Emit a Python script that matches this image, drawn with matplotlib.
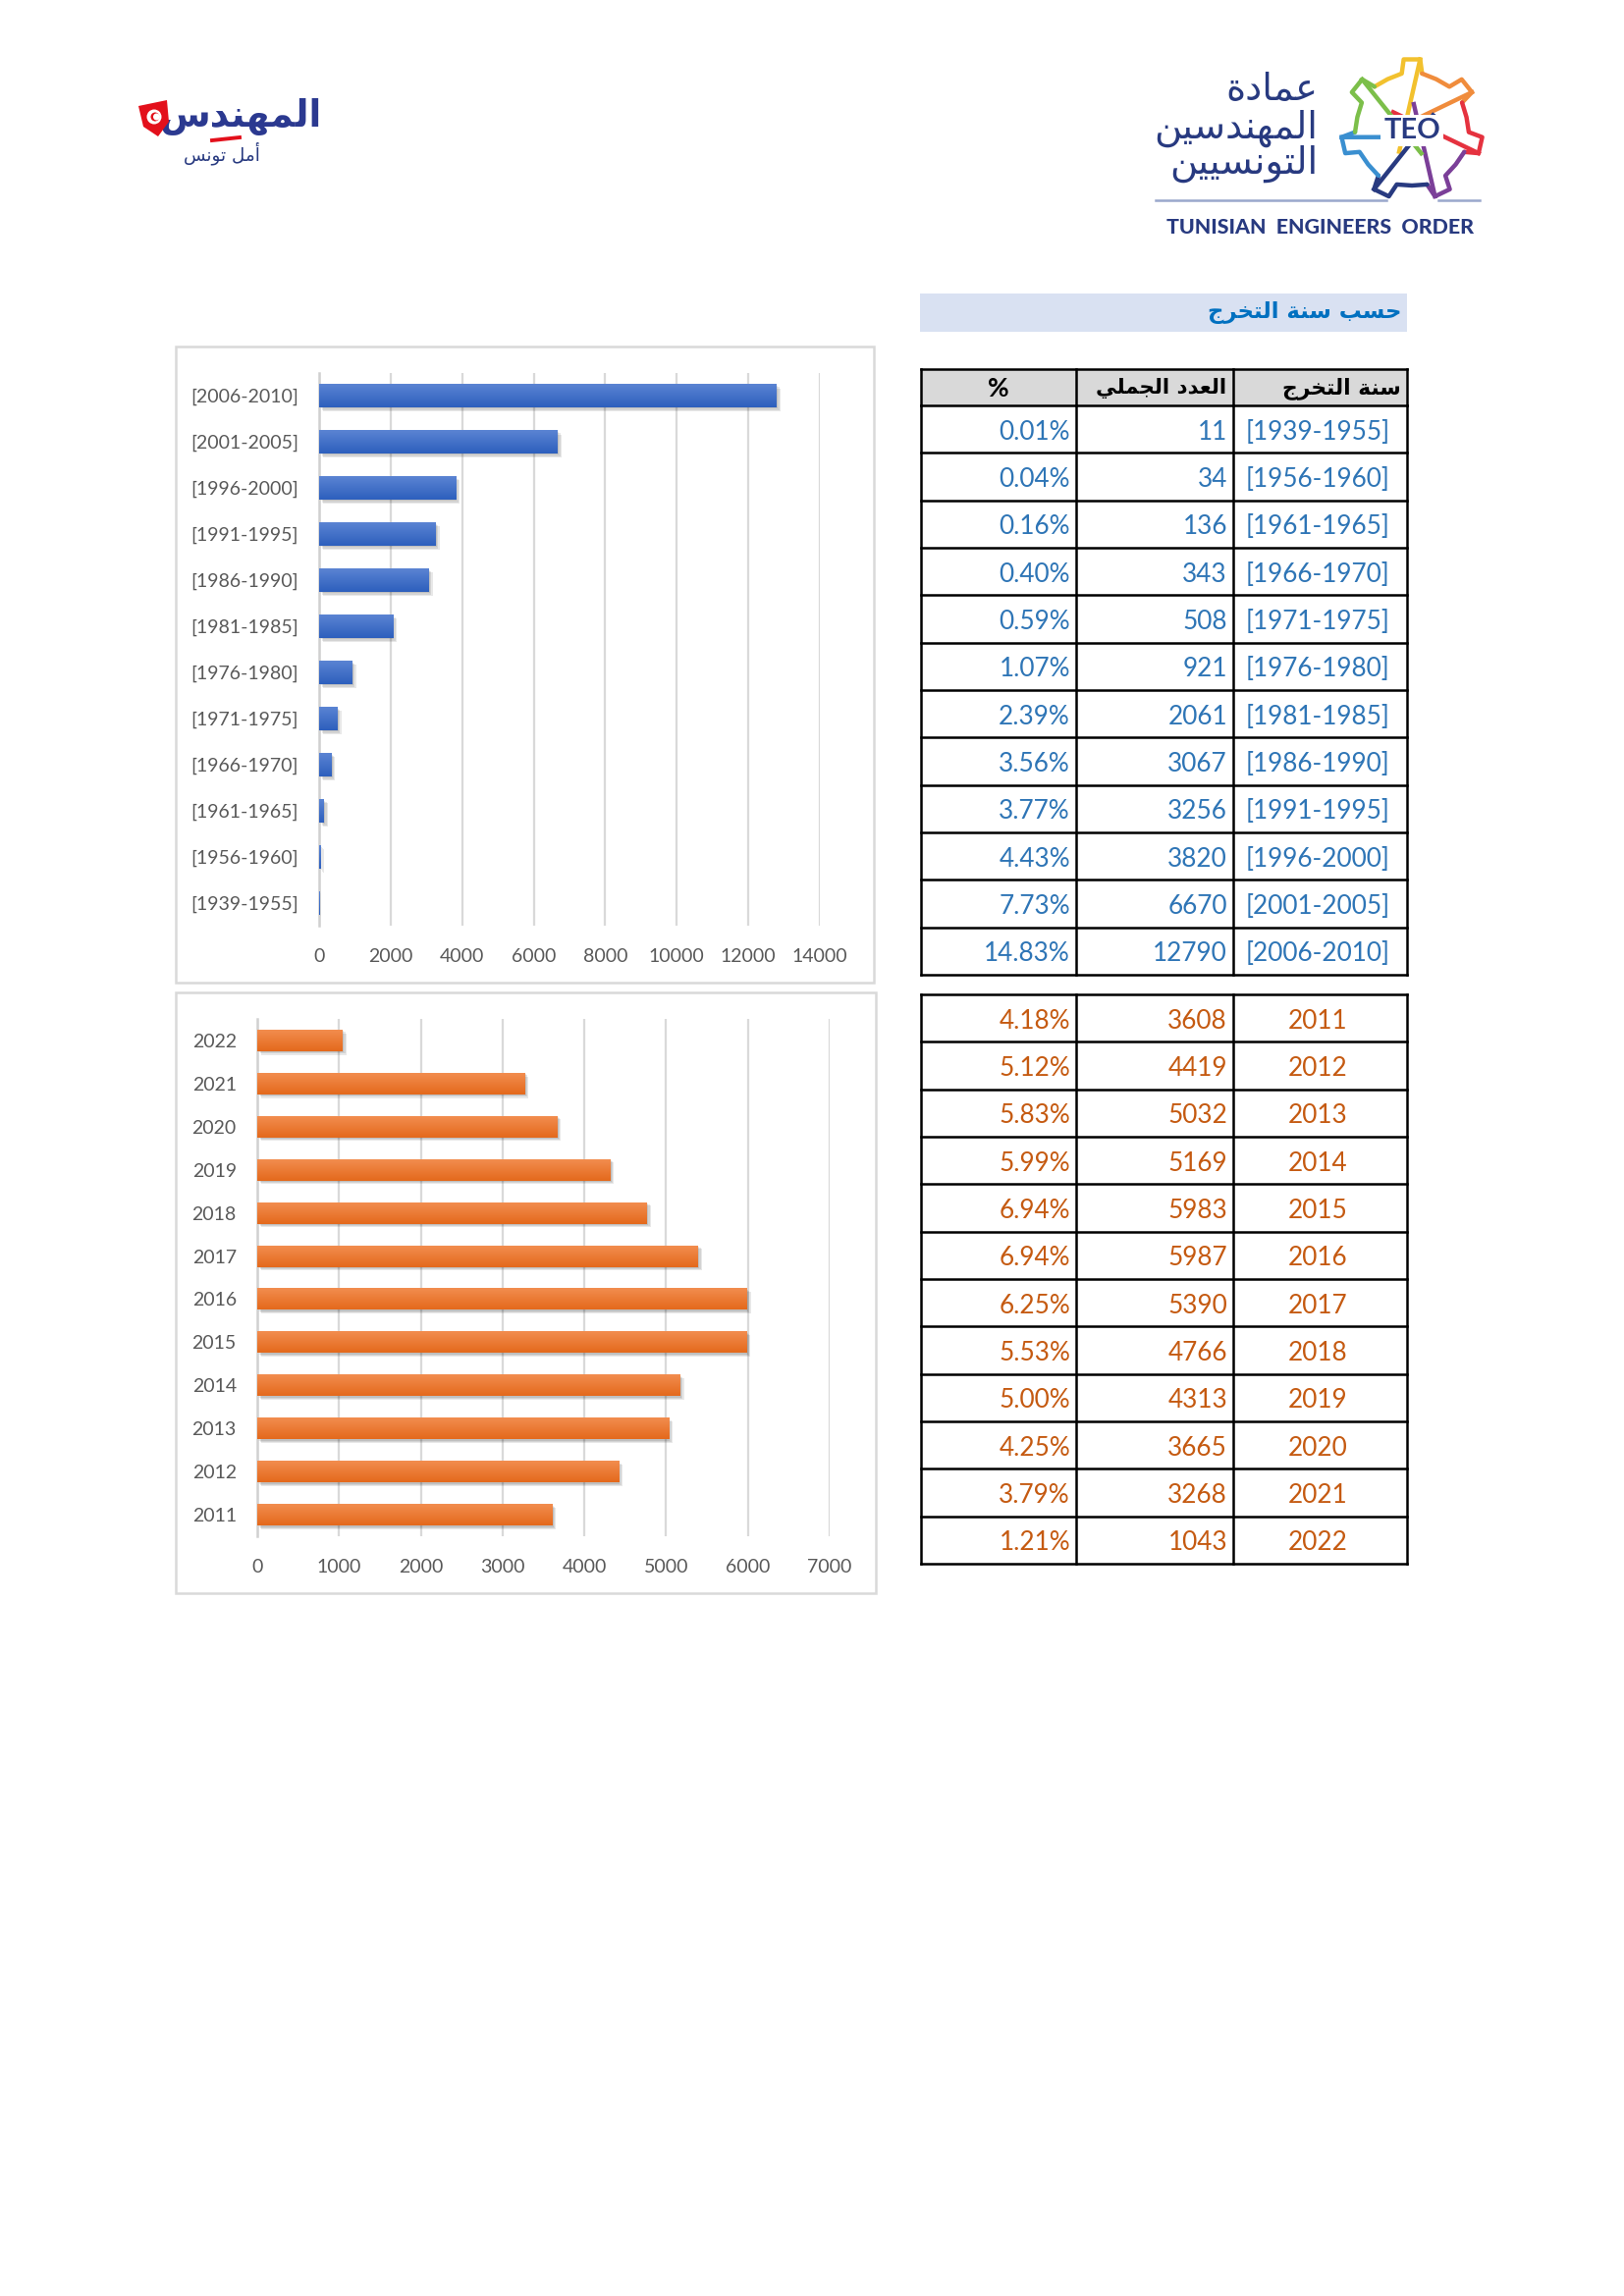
import numpy as np
import matplotlib
matplotlib.use('Agg')
import matplotlib.pyplot as plt
from matplotlib.patches import Rectangle, Polygon, Circle
from matplotlib.colors import LinearSegmentedColormap

# ---- data ----
periods = ['[1939-1955]', '[1956-1960]', '[1961-1965]', '[1966-1970]', '[1971-1975]', '[1976-1980]',
           '[1981-1985]', '[1986-1990]', '[1991-1995]', '[1996-2000]', '[2001-2005]', '[2006-2010]']
period_counts = [11, 34, 136, 343, 508, 921, 2061, 3067, 3256, 3820, 6670, 12790]
period_pct = ['0.01%', '0.04%', '0.16%', '0.40%', '0.59%', '1.07%',
              '2.39%', '3.56%', '3.77%', '4.43%', '7.73%', '14.83%']

years = ['2011', '2012', '2013', '2014', '2015', '2016', '2017', '2018', '2019', '2020', '2021', '2022']
year_counts = [3608, 4419, 5032, 5169, 5983, 5987, 5390, 4766, 4313, 3665, 3268, 1043]
year_pct = ['4.18%', '5.12%', '5.83%', '5.99%', '6.94%', '6.94%', '6.25%', '5.53%', '5.00%', '4.25%', '3.79%', '1.21%']

title = 'حسب سنة التخرج'
headers = ['%', 'العدد الجملي', 'سنة التخرج']

# ---- minimal arabic shaping (matplotlib has no bidi/shaping) ----
FORMS = {
    'ا': ('\uFE8D', '\uFE8E', None, None),
    'أ': ('\uFE83', '\uFE84', None, None),
    'ب': ('\uFE8F', '\uFE90', '\uFE91', '\uFE92'),
    'ة': ('\uFE93', '\uFE94', None, None),
    'ت': ('\uFE95', '\uFE96', '\uFE97', '\uFE98'),
    'ج': ('\uFE9D', '\uFE9E', '\uFE9F', '\uFEA0'),
    'ح': ('\uFEA1', '\uFEA2', '\uFEA3', '\uFEA4'),
    'خ': ('\uFEA5', '\uFEA6', '\uFEA7', '\uFEA8'),
    'د': ('\uFEA9', '\uFEAA', None, None),
    'ر': ('\uFEAD', '\uFEAE', None, None),
    'س': ('\uFEB1', '\uFEB2', '\uFEB3', '\uFEB4'),
    'ع': ('\uFEC9', '\uFECA', '\uFECB', '\uFECC'),
    'ل': ('\uFEDD', '\uFEDE', '\uFEDF', '\uFEE0'),
    'م': ('\uFEE1', '\uFEE2', '\uFEE3', '\uFEE4'),
    'ن': ('\uFEE5', '\uFEE6', '\uFEE7', '\uFEE8'),
    'ه': ('\uFEE9', '\uFEEA', '\uFEEB', '\uFEEC'),
    'و': ('\uFEED', '\uFEEE', None, None),
    'ي': ('\uFEF1', '\uFEF2', '\uFEF3', '\uFEF4'),
}


def shape(s):
    out = []
    for i, c in enumerate(s):
        if c not in FORMS:
            out.append(c)
            continue
        prev = s[i - 1] if i > 0 else ''
        nxt = s[i + 1] if i + 1 < len(s) else ''
        jp = prev in FORMS and FORMS[prev][2] is not None
        jn = FORMS[c][2] is not None and nxt in FORMS
        f = FORMS[c]
        out.append(f[3] if jp and jn else f[1] if jp else f[2] if jn else f[0])
    return ''.join(reversed(out))


W, H = 1654, 2339
fig = plt.figure(figsize=(W / 200, H / 200), dpi=200)
fig.patch.set_facecolor('white')


def rect(x0, y0, x1, y1):
    return [x0 / W, 1 - y1 / H, (x1 - x0) / W, (y1 - y0) / H]


page = fig.add_axes([0, 0, 1, 1], zorder=0)
page.set_xlim(0, W)
page.set_ylim(H, 0)
page.axis('off')

AR = 'DejaVu Sans'
LAT = 'Lato'
NAVY = '#283a80'

# ---- left logo ----
page.text(328, 119, shape('المهندس'), family=AR, weight='bold', fontsize=13.5, color='#2b3990',
          ha='right', va='center')
page.add_patch(Polygon([(141, 108), (170, 102), (172, 124), (161, 139), (146, 129)], closed=True,
                       fc='#e3101b', ec='none', zorder=3))
page.add_patch(Circle((157, 119), 7.5, fc='white', ec='none', zorder=4))
page.add_patch(Circle((158, 119), 4.5, fc='#e3101b', ec='none', zorder=5))
page.add_patch(Circle((159.5, 119), 3.5, fc='white', ec='none', zorder=6))
page.plot([216, 244], [143, 140], color='#e3101b', lw=1.4)
page.text(265, 156, shape('أمل تونس'), family=AR, fontsize=6.6, color=NAVY, ha='right', va='center')

# ---- right logo ----
for txt, yy in [('عمادة', 92), ('المهندسين', 131), ('التونسيين', 167)]:
    page.text(1342, yy, shape(txt), family=AR, fontsize=13.8, color=NAVY, ha='right', va='center')
cx, cy = 1438, 132
gear_cols = ['#f2c12e', '#f08c3c', '#e5323f', '#7b3f98', '#283a80', '#3a8fd0', '#7cbf4a']
n = 7
for k in range(n):
    a = np.deg2rad(90 - k * 360 / n)
    da = np.deg2rad(360 / n)
    angs = [a - 0.2 * da, a - 0.13 * da, a + 0.13 * da, a + 0.2 * da, a + 0.5 * da, a + 0.8 * da]
    rads = [58, 72, 72, 58, 57, 58]
    pts = [(cx + r * np.cos(t), cy - r * np.sin(t)) for t, r in zip(angs, rads)]
    page.plot([p[0] for p in pts], [p[1] for p in pts], color=gear_cols[k], lw=1.6,
              solid_capstyle='round')
    t2 = a + np.deg2rad(150)
    page.plot([pts[1][0], cx + 26 * np.cos(t2)], [pts[1][1], cy - 26 * np.sin(t2)],
              color=gear_cols[k], lw=1.6)
page.text(cx, cy + 1, 'TEO', family=LAT, weight='bold', fontsize=10.5, color=NAVY,
          ha='center', va='center', zorder=5,
          bbox=dict(fc='white', ec='none', pad=1))
page.plot([1177, 1412], [204, 204], color='#9aa8cc', lw=0.9)
page.plot([1465, 1507], [204, 204], color='#9aa8cc', lw=0.9)
page.text(1344, 232, 'TUNISIAN  ENGINEERS  ORDER', family=LAT, weight='black', fontsize=7.7,
          color=NAVY, ha='center', va='center')

# ---- title bar ----
page.add_patch(Rectangle((937, 299), 496, 39, fc='#d9e1f2', ec='none'))
page.text(1427, 318, shape(title), family=AR, weight='bold', fontsize=8.2, color='#0070c0',
          ha='right', va='center')

# ---- tables ----
col_x = [938, 1096, 1256, 1433]
row_h = 48.33
LW = 0.9


def draw_table(top, labels, counts, pcts, color):
    nrow = len(labels)
    bottom = top + nrow * row_h
    for i in range(nrow + 1):
        page.plot([col_x[0], col_x[-1]], [top + i * row_h] * 2, color='black', lw=LW,
                  solid_capstyle='projecting')
    for x in col_x:
        page.plot([x, x], [top, bottom], color='black', lw=LW, solid_capstyle='projecting')
    for i in range(nrow):
        yc = top + (i + 0.5) * row_h + 3
        page.text(col_x[1] - 6, yc, pcts[i], family=LAT, fontsize=9.4, color=color,
                  ha='right', va='center')
        page.text(col_x[2] - 6, yc, str(counts[i]), family=LAT, fontsize=9.4, color=color,
                  ha='right', va='center')
        page.text(1342, yc, labels[i], family=LAT, fontsize=9.4, color=color,
                  ha='center', va='center')


# header
page.add_patch(Rectangle((col_x[0], 376), col_x[-1] - col_x[0], 37, fc='#d9d9d9', ec='none'))
for x in col_x:
    page.plot([x, x], [376, 413], color='black', lw=LW)
page.plot([col_x[0], col_x[-1]], [376, 376], color='black', lw=LW, solid_capstyle='projecting')
page.text((col_x[0] + col_x[1]) / 2, 396, headers[0], family=LAT, weight='bold', fontsize=9.5,
          ha='center', va='center')
page.text(col_x[2] - 7, 396, shape(headers[1]), family=AR, weight='bold', fontsize=7.7,
          ha='right', va='center')
page.text(col_x[3] - 6, 396, shape(headers[2]), family=AR, weight='bold', fontsize=7.9,
          ha='right', va='center')

draw_table(413, periods, period_counts, period_pct, '#2e75b6')
draw_table(1013, years, year_counts, year_pct, '#c55a11')

# ---- chart frames ----
page.add_patch(Rectangle((179, 353), 711, 648, fc='none', ec='#d9d9d9', lw=0.9))
page.add_patch(Rectangle((179, 1011), 713, 612, fc='none', ec='#d9d9d9', lw=0.9))


def bar_chart(ax, labels, values, xmax, step, top_c, bot_c, px_per_unit):
    bars = ax.barh(range(len(values)), values, height=0.5, color='none', zorder=3)
    cmap = LinearSegmentedColormap.from_list('g', [top_c, bot_c])
    grad = np.linspace(0, 1, 64).reshape(-1, 1)
    dx = 4 / px_per_unit
    for b in bars:
        x0, y0, w, h = b.get_x(), b.get_y(), b.get_width(), b.get_height()
        for j in range(3):
            ax.add_patch(Rectangle((x0 + dx * (j + 1) / 3, y0 - 0.03 * (j + 1)), w, h,
                                   fc='black', ec='none', alpha=0.09, zorder=2))
        ax.imshow(grad, extent=(x0, x0 + w, y0, y0 + h), cmap=cmap, aspect='auto',
                  origin='upper', zorder=3)
    ax.set_xlim(0, xmax)
    ax.set_ylim(-0.49, len(values) - 0.51)
    ax.set_xticks(np.arange(0, xmax + 1, step))
    ax.set_yticks(range(len(values)))
    ax.set_yticklabels(labels)
    ax.grid(axis='x', color='#d9d9d9', lw=0.8, zorder=0)
    for s in ['top', 'right', 'bottom']:
        ax.spines[s].set_visible(False)
    ax.spines['left'].set_color('#d0d0d0')
    ax.spines['left'].set_linewidth(0.9)
    ax.tick_params(length=0, colors='#595959', labelsize=7)
    ax.tick_params(axis='x', pad=8.2)
    ax.tick_params(axis='y', pad=7.6)
    for t in ax.get_xticklabels() + ax.get_yticklabels():
        t.set_family(LAT)
    ax.set_facecolor('none')


ax1 = fig.add_axes(rect(325, 380, 835, 943), zorder=2)
bar_chart(ax1, periods, period_counts, 14000, 2000, '#5b84d3', '#2d5fbd', 510 / 14000)

ax2 = fig.add_axes(rect(262, 1038, 845, 1565), zorder=2)
bar_chart(ax2, years, year_counts, 7000, 1000, '#f28d4f', '#e4691c', 583 / 7000)

fig.savefig('out.png', dpi=200, facecolor='white')
